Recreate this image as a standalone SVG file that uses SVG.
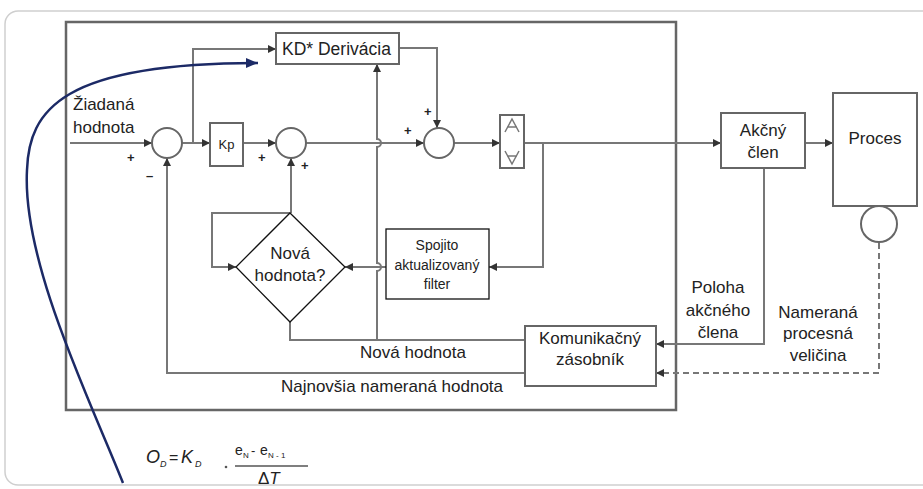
<svg xmlns="http://www.w3.org/2000/svg" width="923" height="489" viewBox="0 0 923 489">
<defs>
<style>
.ln{fill:none;stroke:#777;stroke-width:2}
.bx{fill:#fff;stroke:#666;stroke-width:2}
.bk{fill:#fff;stroke:#111;stroke-width:1.3}
.t{font-family:"Liberation Sans",Arial,sans-serif;font-size:17px;fill:#222}
.tm{text-anchor:middle}
.s{font-family:"Liberation Sans",Arial,sans-serif;font-size:13px;fill:#222;font-weight:bold}
.f{font-family:"Liberation Sans",Arial,sans-serif;fill:#222}
</style>
<marker id="ar" markerUnits="userSpaceOnUse" markerWidth="9" markerHeight="8" refX="8" refY="4" orient="auto">
<path d="M0,0 L8,4 L0,8 z" fill="#333"/>
</marker>
<marker id="ab" markerUnits="userSpaceOnUse" markerWidth="14" markerHeight="10" refX="12" refY="5" orient="auto">
<path d="M0,0 L12,5 L0,10 z" fill="#1c2a66"/>
</marker>
</defs>
<rect width="923" height="489" fill="#fff"/>
<rect x="5" y="11" width="940" height="474" rx="13" fill="none" stroke="#cfcfcf" stroke-width="1.5"/>
<g id="frame"><rect x="66" y="22" width="610" height="388" fill="none" stroke="#666" stroke-width="2.5"/></g>

<g id="connectors">
<path class="ln" d="M70,143 H152" marker-end="url(#ar)"/>
<path class="ln" d="M193,143 V49 H276" marker-end="url(#ar)"/>
<path class="ln" d="M182,143 H210" marker-end="url(#ar)"/>
<path class="ln" d="M243,143 H276" marker-end="url(#ar)"/>
<path class="ln" d="M306,143 H424" marker-end="url(#ar)"/>
<path class="ln" d="M454,143 H500" marker-end="url(#ar)"/>
<path class="ln" d="M524,143 H721" marker-end="url(#ar)"/>
<path class="ln" d="M805,143 H833" marker-end="url(#ar)"/>
<path class="ln" d="M399,48 H437 V128" marker-end="url(#ar)"/>
<path class="ln" d="M377,340 V271 A4,4 0 0 0 377,263 V147 A4,4 0 0 0 377,139 V64" marker-end="url(#ar)"/>
<path class="ln" d="M543,143 V267 H489" marker-end="url(#ar)"/>
<path class="ln" d="M386,267 H345" marker-end="url(#ar)"/>
<path class="ln" d="M291,213 V158" marker-end="url(#ar)"/>
<path class="ln" d="M291,213 H212 V267 H236" marker-end="url(#ar)"/>
<path class="ln" d="M290,322 V340 H525"/>
<path class="ln" d="M525,373 H167 V158" marker-end="url(#ar)"/>
<path class="ln" d="M764,168 V344 H656" marker-end="url(#ar)"/>
<path class="ln" d="M879,243 V373 H656" stroke-dasharray="6,4" marker-end="url(#ar)"/>
<path d="M123,483 C90,400 22,262 27,170 C29,110 62,63 258,63" fill="none" stroke="#1c2a66" stroke-width="2.5" marker-end="url(#ab)"/>
</g>

<g id="sum1"><circle cx="167" cy="143" r="15" class="bx"/>
<text class="s" x="127" y="162">+</text><text class="s" x="146" y="180">–</text></g>
<g id="kp"><rect x="210" y="123" width="33" height="43" class="bx"/><text class="t tm" x="226.5" y="149" style="font-size:13px">Kp</text></g>
<g id="sum2"><circle cx="291" cy="143" r="15" class="bx"/>
<text class="s" x="258" y="162">+</text><text class="s" x="301" y="170">+</text></g>
<g id="kd"><rect x="276" y="33" width="123" height="31" class="bx"/><text class="t" x="282" y="55" style="font-size:17.5px">KD* Derivácia</text></g>
<g id="sum3"><circle cx="439" cy="143" r="15" class="bx"/>
<text class="s" x="404" y="135">+</text><text class="s" x="424" y="116">+</text></g>
<g id="limiter"><rect x="500" y="115" width="24" height="53" class="bx"/>
<path d="M505,132 L512,119 L519,132 M507,127 H517 M505,151 L512,164 L519,151 M507,156 H517" fill="none" stroke="#777" stroke-width="1.5"/></g>
<g id="akcny"><rect x="721" y="113" width="84" height="55" class="bx"/>
<text class="t tm" x="763" y="136">Akčný</text><text class="t tm" x="763" y="158">člen</text></g>
<g id="proces"><rect x="833" y="93" width="84" height="113" class="bx"/><text class="t tm" x="875" y="144">Proces</text></g>
<g id="sensor"><circle cx="879" cy="224" r="18" class="bx"/></g>
<g id="diamond"><path d="M290,213 L345,267 L290,322 L236,267 Z" class="bk"/>
<text class="t tm" x="290" y="259">Nová</text><text class="t tm" x="290" y="281">hodnota?</text></g>
<g id="filter"><rect x="386" y="229" width="103" height="70" class="bk"/>
<text class="t tm" x="437" y="250" style="font-size:14px">Spojito</text>
<text class="t tm" x="437" y="270" style="font-size:14px">aktualizovaný</text>
<text class="t tm" x="437" y="289" style="font-size:14px">filter</text></g>
<g id="komunikacny"><rect x="525" y="326" width="131" height="60" class="bx"/>
<text class="t tm" x="590" y="344">Komunikačný</text><text class="t tm" x="590" y="365">zásobník</text></g>

<g id="labels">
<text class="t" x="73" y="110">Žiadaná</text><text class="t" x="73" y="133">hodnota</text>
<text class="t tm" x="718" y="293">Poloha</text><text class="t tm" x="718" y="316">akčného</text><text class="t tm" x="718" y="338">člena</text>
<text class="t tm" x="818" y="318">Nameraná</text><text class="t tm" x="818" y="339">procesná</text><text class="t tm" x="818" y="361">veličina</text>
<text class="t tm" x="413" y="358">Nová hodnota</text>
<text class="t tm" x="392" y="392">Najnovšia nameraná hodnota</text>
</g>

<g id="formula">
<text class="f" x="146" y="463" font-size="18" font-style="italic">O</text>
<text class="f" x="160" y="467" font-size="9" font-style="italic">D</text>
<text class="f" x="169" y="463" font-size="16">=</text>
<text class="f" x="181" y="463" font-size="18" font-style="italic">K</text>
<text class="f" x="195" y="467" font-size="9" font-style="italic">D</text>
<circle cx="226" cy="467" r="1.3" fill="#555"/>
<text class="f" x="235" y="455" font-size="14">e</text>
<text class="f" x="243" y="458" font-size="8">N</text>
<text class="f" x="251" y="455" font-size="13">-</text>
<text class="f" x="260" y="455" font-size="14">e</text>
<text class="f" x="268" y="458" font-size="8">N - 1</text>
<line x1="235" y1="466" x2="308" y2="466" stroke="#555" stroke-width="1.5"/>
<text class="f" x="258" y="484" font-size="17">Δ<tspan font-style="italic">T</tspan></text>
</g>
</svg>
